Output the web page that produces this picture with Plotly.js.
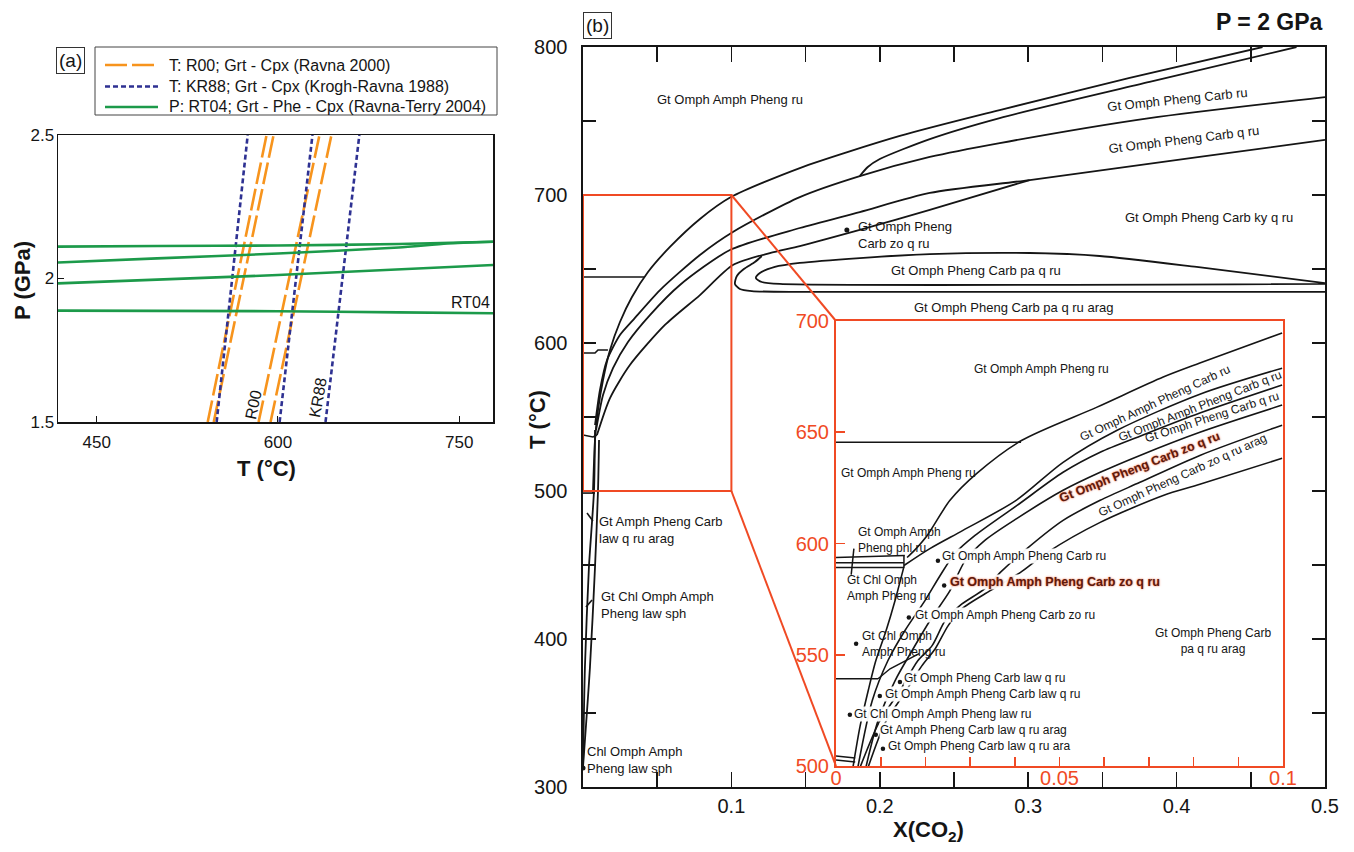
<!DOCTYPE html>
<html><head><meta charset="utf-8">
<script src="https://cdn.plot.ly/plotly-3.0.1.min.js"></script>
<style>html,body{margin:0;padding:0;background:#fff}#chart{width:1354px;height:852px}</style>
</head><body><div id="chart"></div>
<script>
// ---------------- Panel (a) data ----------------
const pEnds = [1.5, 2.5];
const r00TLow = [541.9, 546.9, 584.0, 593.9];
const r00THigh = [590.6, 596.4, 634.4, 644.3];
const kr88TLow = [549.3, 601.4, 639.4];
const kr88THigh = [575.0, 628.6, 667.4];
const rt04aT = [418, 500, 600, 700, 778];
const rt04aP = [2.111, 2.113, 2.115, 2.12, 2.128];
const rt04bT = [418, 500, 600, 700, 740, 778];
const rt04bP = [2.056, 2.07, 2.087, 2.108, 2.122, 2.128];
const rt04cT = [418, 600, 778];
const rt04cP = [1.983, 2.012, 2.047];
const rt04dT = [418, 600, 700, 778];
const rt04dP = [1.888, 1.886, 1.882, 1.879];
const aXTicks = [450, 600, 750];
const aYTicks = [1.5, 2, 2.5];
const aYTickText = ['1.5', '2', '2.5'];
const legendNames = ['T: R00; Grt - Cpx (Ravna 2000)', 'T: KR88; Grt - Cpx (Krogh-Ravna 1988)', 'P: RT04; Grt - Phe - Cpx (Ravna-Terry 2004)'];

// ---------------- Panel (b) main curves (X(CO2), T °C) ----------------
const c1X = [0.0067,0.0081,0.0101,0.0135,0.0182,0.0249,0.0330,0.0438,0.0586,0.0788,0.0997,0.1461,0.2135,0.2808,0.3684,0.4579];
const c1T = [498.6,534.5,554.7,575.0,595.3,614.2,631.1,648.0,664.9,683.8,698.6,718.2,739.9,757.4,779.1,800];
const c2X = [0.0081,0.0114,0.0162,0.0249,0.0337,0.0519,0.0788,0.1010,0.1461,0.1865,0.2337,0.2808,0.3818,0.5];
const c2T = [544.6,568.2,588.5,605.4,615.5,635.8,659.5,675.0,698.6,712.8,725.7,735.1,752.0,766.2];
const c2bX = [0.1865,0.1919,0.2000,0.2337,0.2808,0.3818,0.4808];
const c2bT = [712.8,718.9,724.3,737.8,752.0,776.4,800];
const c3X = [0.0088,0.0135,0.0202,0.0303,0.0451,0.0653,0.0990,0.1461,0.1865,0.2337,0.3010,0.4155,0.5];
const c3T = [541.2,564.9,583.1,600.7,618.9,639.2,662.8,677.7,688.5,701.4,710.1,725.7,737.2];
const c4X = [0.0094,0.0182,0.0316,0.0552,0.0788,0.1010,0.1259,0.1461,0.1865,0.2337,0.3010];
const c4T = [537.8,562.8,585.1,612.2,632.4,652.7,660.8,665.5,676.4,689.9,710.1];
const loopOuterX = [0.5,0.1461,0.1138,0.1057,0.1024,0.1037,0.1084,0.1158,0.1205];
const loopOuterT = [634.5,634.5,635.1,636.5,639.9,645.3,650.0,654.7,658.8];
const loopInnerX = [0.5,0.1327,0.1205,0.1165,0.1192,0.1293,0.1461,0.1865,0.2337,0.3010,0.3481,0.4135,0.5];
const loopInnerT = [639.9,639.9,641.2,643.9,647.3,651.4,654.1,657.4,660.1,660.8,658.8,651.4,640.5];
const v1X = [0.0108,0.0101,0.0081,0.0047,0.0];
const v1T = [534.5,500,448.6,381.1,313.5];
const v2X = [0.0081,0.0074,0.0040,0.0013,0.0];
const v2T = [541.2,500,448.6,381.1,313.5];
const h645X = [0, 0.0418];
const h645T = [644.6, 644.6];
const s593X = [0, 0.0081, 0.0101, 0.0168];
const s593T = [593.2, 593.2, 595.3, 595.3];
const s537X = [0, 0.0067, 0.0094];
const s537T = [537.8, 536.5, 537.8];
const h499X = [0, 0.0081];
const h499T = [498.6, 498.6];
const lead1X = [0.0027, 0.0067];
const lead1T = [485.1, 479.7];
const lead2X = [0.0020, 0.0061];
const lead2T = [421.6, 426.4];
const mainDotX = [0.1778, 0.0];
const mainDotT = [676.4, 312.8];
const bXTickVals = [0,0.05,0.1,0.15,0.2,0.25,0.3,0.35,0.4,0.45,0.5];
const bXTickText = ['','','0.1','','0.2','','0.3','','0.4','','0.5'];
const bYTickVals = [300,350,400,450,500,550,600,650,700,750,800];
const bYTickText = ['300','','400','','500','','600','','700','','800'];

const mainLabelText = ['Gt Omph Amph Pheng ru','Gt Omph Pheng Carb ru','Gt Omph Pheng Carb q ru','Gt Omph Pheng Carb ky q ru','Gt Omph Pheng<br>Carb zo q ru','Gt Omph Pheng Carb pa q ru','Gt Omph Pheng Carb pa q ru arag','Gt Amph Pheng Carb<br>law q ru arag','Gt Chl Omph Amph<br>Pheng law sph','Chl Omph Amph<br>Pheng law sph'];
const mainLabelX = [0.099,0.4007,0.4047,0.4215,0.1838,0.2646,0.2902,0.0094,0.0108,0.0013];
const mainLabelT = [764.2,764.5,737.8,685.1,673.0,649.3,624.3,473.6,423.0,318.2];
const mainLabelAngle = [0,-6,-7,0,0,0,0,0,0,0];
const mainLabelAnchor = ['center','center','center','center','left','center','center','left','left','left'];

// ---------------- Inset (X 0-0.1, T 500-700) ----------------
const insetXRange = [0, 0.1];
const insetTRange = [500, 700];
const i1X = [0.0998,0.0814,0.0732,0.0584,0.0416,0.0315,0.0255,0.0204,0.0175,0.0159];
const i1T = [694.6,681.1,674.8,661.3,646.4,631.5,619.4,603.6,596.8,593.7];
const i2X = [0.0998,0.0814,0.0629,0.0508,0.0403,0.0284,0.0210,0.0152];
const i2T = [678.8,667.1,650.9,636.5,619.4,605.9,597.7,590.1];
const i3X = [0.0998,0.0814,0.0680,0.0591,0.0508,0.0405,0.0311,0.0266,0.0233,0.0199,0.0154,0.0116,0.0081,0.0049];
const i3T = [671.2,658.6,648.2,641.0,632.0,617.1,603.6,595.5,585.6,574.3,560.8,547.3,529.3,499.5];
const i4X = [0.0998,0.0814,0.0680,0.0591,0.0508,0.0405,0.0333,0.0289,0.0255,0.0210,0.0170,0.0132,0.0094,0.0067];
const i4T = [662.2,650.0,639.6,632.0,623.9,611.3,601.4,592.3,578.8,565.3,551.8,538.3,520.3,499.5];
const i5X = [0.0998,0.0814,0.0680,0.0591,0.0508,0.0427,0.0367,0.0333,0.0277,0.0244,0.0215,0.0183,0.0143,0.0098,0.0054];
const i5T = [653.2,639.6,627.5,619.4,610.4,597.7,586.9,579.7,572.1,565.3,554.1,547.3,533.8,520.3,499.5];
const i6X = [0.0998,0.0814,0.0732,0.0591,0.0472,0.0412,0.0345,0.0282,0.0251,0.0222,0.0192,0.0154,0.0110,0.0072];
const i6T = [638.3,626.6,621.6,609.5,595.9,586.9,578.8,570.7,563.1,552.7,545.0,532.9,519.4,499.5];
const iaX = [0.0152,0.0132,0.0112,0.0089,0.0072,0.0054,0.0038];
const iaT = [589.6,574.3,560.8,547.3,533.8,518.0,499.5];
const ih645X = [0, 0.0414];
const ih645T = [645.5, 645.5];
const phl1X = [0, 0.0154]; const phl1T = [593.7, 594.6];
const phl2X = [0, 0.0152]; const phl2T = [591.4, 591.4];
const phl3X = [0, 0.0152]; const phl3T = [589.2, 589.2];
const phlVX = [0.0152, 0.0152]; const phlVT = [594.6, 589.2];
const phlSX = [0.0040, 0.0034]; const phlST = [597.7, 586.0];
const ih539X = [0, 0.0094]; const ih539T = [539.2, 539.2];
const bendX = [0.0094, 0.0121, 0.0186]; const bendT = [539.2, 543.7, 550.5];
const ib1X = [0, 0.0043]; const ib1T = [504.5, 503.6];
const ib2X = [0, 0.0043]; const ib2T = [502.7, 501.8];
const insetDotX = [0.0228,0.0242,0.0163,0.0045,0.0143,0.0098,0.0031,0.0089,0.0105];
const insetDotT = [592.3,581.1,566.7,555.0,537.8,531.5,523.0,514.0,507.7];
const insetXTickVals = [0,0.01,0.02,0.03,0.04,0.05,0.06,0.07,0.08,0.09,0.1];
const insetXTickText = ['0','','','','','0.05','','','','','0.1'];
const insetYTickVals = [500,550,600,650,700];

const insetLabelText = ['Gt Omph Amph Pheng ru','Gt Omph Amph Pheng ru','Gt Omph Amph Pheng Carb ru','Gt Omph Amph Pheng Carb q ru','Gt Omph Pheng Carb q ru','<b>Gt Omph Pheng Carb zo q ru</b>','Gt Omph Pheng Carb zo q ru arag','Gt Omph Amph<br>Pheng phl ru','Gt Omph Amph Pheng Carb ru','Gt Chl Omph<br>Amph Pheng ru','<b>Gt Omph Amph Pheng Carb zo q ru</b>','Gt Omph Amph Pheng Carb zo ru','Gt Chl Omph<br>Amph Pheng ru','Gt Omph Pheng Carb law q ru','Gt Omph Amph Pheng Carb law q ru','Gt Chl Omph Amph Pheng law ru','Gt Amph Pheng Carb law q ru arag','Gt Omph Pheng Carb law q ru ara','Gt Omph Pheng Carb<br>pa q ru arag'];
const insetLabelX = [0.0459,0.0009,0.0714,0.0814,0.0841,0.0680,0.0776,0.0047,0.0235,0.0022,0.0253,0.0174,0.0056,0.0150,0.0107,0.0038,0.0096,0.0114,0.0843];
const insetLabelT = [678.4,631.5,663.1,661.7,656.8,634.2,630.6,601.4,594.6,580.2,582.9,568.0,555.0,539.6,532.4,523.4,516.2,509.0,556.3];
const insetLabelAngle = [0,0,-25,-21.5,-18,-21.6,-24.5,0,0,0,0,0,0,0,0,0,0,0,0];
const insetLabelAnchor = ['center','left','center','center','center','center','center','left','left','left','left','left','left','left','left','left','left','left','center'];
const insetLabelBold = [0,0,0,0,0,1,0,0,0,0,1,0,0,0,0,0,0,0,0];
const insetLabelBg = [0,0,0,0,0,0,0,0,1,0,1,1,0,1,1,1,1,1,0];

// ---------------- Styling ----------------
const FONT = 'Liberation Sans, Arial, Helvetica, sans-serif';
const RED = '#f04a24';
const ORANGE = '#f7941d';
const BLUE = '#2e3192';
const GREEN = '#1c9a4a';
const INK = '#151515';
const W = 1354, H = 852;
function dx(a, b) { return [a / W, b / W]; }
function dy(top, bottom) { return [1 - bottom / H, 1 - top / H]; }
const R00_DASH = '22px,5px';
const KR88_DASH = '5px,3px';

const traces = [];
function addLine(xs, ys, xa, ya, color, width, opts) {
  opts = opts || {};
  traces.push({
    type: 'scatter', mode: 'lines', x: xs, y: ys, xaxis: xa, yaxis: ya,
    line: {color: color, width: width, dash: opts.dash || 'solid', shape: opts.shape || 'linear', smoothing: opts.smoothing || 0},
    hoverinfo: 'skip', showlegend: false
  });
}

// Panel (a)
r00TLow.forEach((t, i) => addLine([t, r00THigh[i]], pEnds, 'x', 'y', ORANGE, 2.6, {dash: R00_DASH}));
kr88TLow.forEach((t, i) => addLine([t, kr88THigh[i]], pEnds, 'x', 'y', BLUE, 2.6, {dash: KR88_DASH}));
[[rt04aT, rt04aP], [rt04bT, rt04bP], [rt04cT, rt04cP], [rt04dT, rt04dP]]
  .forEach(p => addLine(p[0], p[1], 'x', 'y', GREEN, 2.6, {shape: 'spline', smoothing: 0.6}));

// Panel (b) main
const sp = {shape: 'spline', smoothing: 0.7};
[[c1X,c1T],[c2X,c2T],[c2bX,c2bT],[c3X,c3T],[c4X,c4T],[loopOuterX,loopOuterT],[loopInnerX,loopInnerT],[v1X,v1T],[v2X,v2T]]
  .forEach(p => addLine(p[0], p[1], 'x2', 'y2', INK, 1.8, sp));
[[h645X,h645T],[s593X,s593T],[s537X,s537T],[h499X,h499T],[lead1X,lead1T],[lead2X,lead2T]]
  .forEach(p => addLine(p[0], p[1], 'x2', 'y2', INK, 1.6));
traces.push({type: 'scatter', mode: 'markers', x: mainDotX, y: mainDotT, xaxis: 'x2', yaxis: 'y2',
  marker: {color: INK, size: 5}, hoverinfo: 'skip', showlegend: false});

// Inset
[[i1X,i1T],[i2X,i2T],[i3X,i3T],[i4X,i4T],[i5X,i5T],[i6X,i6T],[iaX,iaT]]
  .forEach(p => addLine(p[0], p[1], 'x3', 'y3', INK, 1.6, {shape: 'spline', smoothing: 0.8}));
[[ih645X,ih645T],[phl1X,phl1T],[phl2X,phl2T],[phl3X,phl3T],[phlVX,phlVT],[phlSX,phlST],[ih539X,ih539T],[bendX,bendT],[ib1X,ib1T],[ib2X,ib2T]]
  .forEach(p => addLine(p[0], p[1], 'x3', 'y3', INK, 1.5));
traces.push({type: 'scatter', mode: 'markers', x: insetDotX, y: insetDotT, xaxis: 'x3', yaxis: 'y3',
  marker: {color: INK, size: 4.5}, hoverinfo: 'skip', showlegend: false});

// ---------------- Layout ----------------
const baseAxis = {showgrid: false, zeroline: false, showline: true, fixedrange: true};
const layout = {
  width: W, height: H, margin: {l: 0, r: 0, t: 0, b: 0},
  paper_bgcolor: '#fff', plot_bgcolor: 'rgba(255,255,255,0)',
  font: {family: FONT, color: INK},
  showlegend: false,
  xaxis: Object.assign({}, baseAxis, {domain: dx(58, 493), range: [418, 778], anchor: 'y', mirror: true,
    linecolor: INK, linewidth: 1.5, ticks: 'inside', ticklen: 6, tickcolor: INK, tickvals: aXTicks,
    tickfont: {size: 17, family: FONT, color: INK}, ticklabelstandoff: 4}),
  yaxis: Object.assign({}, baseAxis, {domain: dy(135, 422), range: [1.5, 2.5], anchor: 'x', mirror: true,
    linecolor: INK, linewidth: 1.5, ticks: 'inside', ticklen: 6, tickcolor: INK, tickvals: aYTicks, ticktext: aYTickText,
    tickfont: {size: 17, family: FONT, color: INK}, ticklabelstandoff: -1}),
  xaxis2: Object.assign({}, baseAxis, {domain: dx(583, 1325), range: [0, 0.5], anchor: 'y2', mirror: 'ticks',
    linecolor: INK, linewidth: 1.6, ticks: 'inside', ticklen: 15, tickwidth: 1.6, tickcolor: INK,
    tickvals: bXTickVals, ticktext: bXTickText, tickfont: {size: 20, family: FONT, color: INK}, ticklabelstandoff: 0}),
  yaxis2: Object.assign({}, baseAxis, {domain: dy(47, 787), range: [300, 800], anchor: 'x2', mirror: 'ticks',
    linecolor: INK, linewidth: 1.6, ticks: 'inside', ticklen: 13, tickwidth: 1.6, tickcolor: INK,
    tickvals: bYTickVals, ticktext: bYTickText, tickfont: {size: 20, family: FONT, color: INK}, ticklabelstandoff: 10}),
  xaxis3: Object.assign({}, baseAxis, {domain: dx(836, 1283), range: insetXRange, anchor: 'y3', mirror: true,
    linecolor: RED, linewidth: 2, ticks: 'inside', ticklen: 9, tickwidth: 1.6, tickcolor: RED,
    tickvals: insetXTickVals, ticktext: insetXTickText, tickfont: {size: 20, family: FONT, color: RED}, ticklabelstandoff: -7}),
  yaxis3: Object.assign({}, baseAxis, {domain: dy(321, 766), range: insetTRange, anchor: 'x3', mirror: true,
    linecolor: RED, linewidth: 2, ticks: 'inside', ticklen: 9, tickwidth: 1.6, tickcolor: RED,
    tickvals: insetYTickVals, tickfont: {size: 20, family: FONT, color: RED}, ticklabelstandoff: 1}),
  annotations: [], shapes: []
};

function toPX(ax, v) { const a = layout[ax]; return a.domain[0] + (v - a.range[0]) / (a.range[1] - a.range[0]) * (a.domain[1] - a.domain[0]); }

// zoom box and connectors
layout.shapes.push({type: 'rect', xref: 'x2', yref: 'y2', x0: insetXRange[0], x1: insetXRange[1], y0: insetTRange[0], y1: insetTRange[1], line: {color: RED, width: 2}});
layout.shapes.push({type: 'line', xref: 'paper', yref: 'paper', x0: toPX('xaxis2', insetXRange[1]), y0: toPX('yaxis2', insetTRange[1]), x1: toPX('xaxis3', insetXRange[0]), y1: toPX('yaxis3', insetTRange[1]), line: {color: RED, width: 2}});
layout.shapes.push({type: 'line', xref: 'paper', yref: 'paper', x0: toPX('xaxis2', insetXRange[1]), y0: toPX('yaxis2', insetTRange[0]), x1: toPX('xaxis3', insetXRange[0]), y1: toPX('yaxis3', insetTRange[0]), line: {color: RED, width: 2}});

// legend of panel (a), drawn as a boxed key
const legendColors = [ORANGE, BLUE, GREEN];
const legendDash = [R00_DASH, KR88_DASH, 'solid'];
const legendRowY = [65, 86.5, 107];
layout.shapes.push({type: 'rect', xref: 'paper', yref: 'paper', x0: 95 / W, x1: 497 / W, y0: 1 - 115 / H, y1: 1 - 47 / H, line: {color: '#444', width: 1}, fillcolor: 'rgba(0,0,0,0)'});
legendNames.forEach((n, i) => {
  layout.shapes.push({type: 'line', xref: 'paper', yref: 'paper', x0: 105 / W, x1: 158 / W, y0: 1 - legendRowY[i] / H, y1: 1 - legendRowY[i] / H,
    line: {color: legendColors[i], width: 2.6, dash: legendDash[i]}});
});

const A = layout.annotations;
function paperAnn(text, px, py, opts) {
  A.push(Object.assign({text: text, xref: 'paper', yref: 'paper', x: px / W, y: 1 - py / H, showarrow: false,
    xanchor: 'center', yanchor: 'middle', font: {family: FONT, size: 20, color: INK}}, opts || {}));
}
legendNames.forEach((n, i) => paperAnn(n, 167, legendRowY[i], {xanchor: 'left', font: {family: FONT, size: 16, color: INK}}));

// panel letters and titles
paperAnn('(a)', 70.5, 60.5, {font: {family: FONT, size: 19, color: INK}, bordercolor: '#333', borderwidth: 1, borderpad: 2});
paperAnn('(b)', 597.5, 25.5, {font: {family: FONT, size: 19, color: INK}, bordercolor: '#333', borderwidth: 1, borderpad: 2});
paperAnn('<b>P (GPa)</b>', 22, 280, {textangle: -90, font: {family: FONT, size: 22, color: INK}});
paperAnn('<b>T (°C)</b>', 266, 468, {font: {family: FONT, size: 22, color: INK}});
paperAnn('<b>T (°C)</b>', 537, 420, {textangle: -90, font: {family: FONT, size: 22, color: INK}});
paperAnn('<b>X(CO<sub>2</sub>)</b>', 928, 831, {font: {family: FONT, size: 22, color: INK}});
paperAnn('<b>P = 2 GPa</b>', 1325, 22, {xanchor: 'right', font: {family: FONT, size: 23, color: INK}});

// panel (a) line labels
A.push({text: 'RT04', xref: 'x', yref: 'y', x: 777, y: 1.918, xanchor: 'right', yanchor: 'middle', showarrow: false, font: {family: FONT, size: 16, color: INK}});
A.push({text: 'R00', xref: 'x', yref: 'y', x: 579.9, y: 1.56, textangle: -78, showarrow: false, font: {family: FONT, size: 16, color: INK}});
A.push({text: 'KR88', xref: 'x', yref: 'y', x: 633.2, y: 1.585, textangle: -80, showarrow: false, font: {family: FONT, size: 16, color: INK}});

// main labels
mainLabelText.forEach((t, i) => A.push({text: t, xref: 'x2', yref: 'y2', x: mainLabelX[i], y: mainLabelT[i],
  xanchor: mainLabelAnchor[i], yanchor: 'middle', align: 'left', textangle: mainLabelAngle[i], showarrow: false,
  font: {family: FONT, size: 13, color: INK}}));

// inset labels
insetLabelText.forEach((t, i) => {
  const bold = insetLabelBold[i] === 1;
  A.push({text: t, xref: 'x3', yref: 'y3', x: insetLabelX[i], y: insetLabelT[i],
    xanchor: insetLabelAnchor[i], yanchor: 'middle', align: insetLabelAnchor[i] === 'center' ? 'center' : 'left',
    textangle: insetLabelAngle[i], showarrow: false, borderpad: 0,
    bgcolor: insetLabelBg[i] ? 'rgba(255,255,255,0.95)' : 'rgba(0,0,0,0)',
    font: bold ? {family: FONT, size: 12.5, color: '#5e1a0c', shadow: '0px 0px 2px #f0552a'} : {family: FONT, size: 12, color: INK}});
});

Plotly.newPlot('chart', traces, layout, {staticPlot: true, displayModeBar: false});
</script></body></html>
